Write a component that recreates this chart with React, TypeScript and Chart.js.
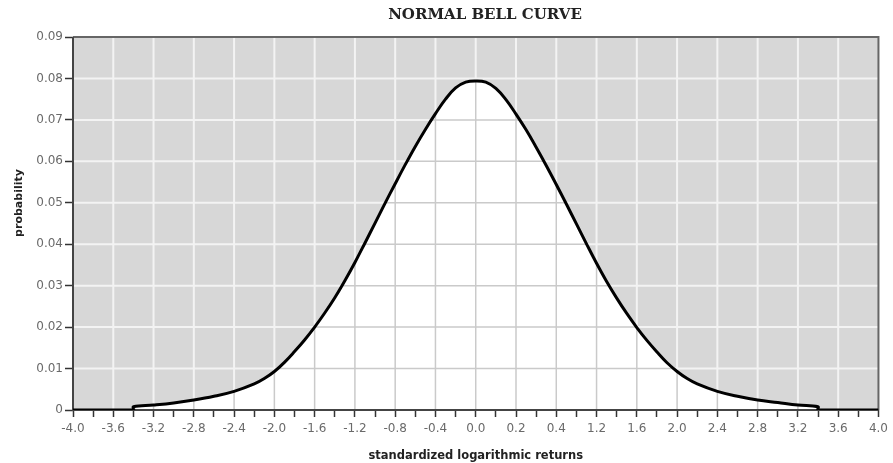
import { useEffect, useRef } from "react";
import { Chart, registerables } from "chart.js";

Chart.register(...registerables);

const TITLE = "NORMAL BELL CURVE";
const X_TITLE = "standardized logarithmic returns";
const Y_TITLE = "probability";

const xTickLabels = [
  "-4.0", "-3.6", "-3.2", "-2.8", "-2.4", "-2.0", "-1.6", "-1.2", "-0.8", "-0.4",
  "0.0", "0.2", "0.4", "1.2", "1.6", "2.0", "2.4", "2.8", "3.2", "3.6", "4.0",
];
const yTickLabels = ["0", "0.01", "0.02", "0.03", "0.04", "0.05", "0.06", "0.07", "0.08", "0.09"];

const xPositions = [
  -4.0, -3.8, -3.6, -3.4, -3.4, -3.2, -3.0, -2.8, -2.6, -2.4, -2.2, -2.1,
  -2.0, -1.9, -1.8, -1.7, -1.6, -1.5, -1.4, -1.3, -1.2, -1.1,
  -1.0, -0.9, -0.8, -0.7, -0.6, -0.5, -0.4, -0.3, -0.2, -0.1,
  0.0, 0.1, 0.2, 0.3, 0.4, 0.5, 0.6, 0.7, 0.8, 0.9,
  1.0, 1.1, 1.2, 1.3, 1.4, 1.5, 1.6, 1.7, 1.8, 1.9,
  2.0, 2.1, 2.2, 2.4, 2.6, 2.8, 3.0, 3.2, 3.4, 3.4, 3.6, 3.8, 4.0,
];
const probabilities = [
  0, 0, 0, 0, 0.0008, 0.0012, 0.0017, 0.0024, 0.0033, 0.0045, 0.0063, 0.0076,
  0.0093, 0.0115, 0.0141, 0.0169, 0.0200, 0.0234, 0.0271, 0.0312, 0.0356, 0.0403,
  0.0451, 0.0499, 0.0546, 0.0592, 0.0636, 0.0677, 0.0715, 0.0750, 0.0777, 0.0791,
  0.0794, 0.0791, 0.0776, 0.0749, 0.0714, 0.0676, 0.0634, 0.0590, 0.0544, 0.0497,
  0.0449, 0.0401, 0.0354, 0.0310, 0.0270, 0.0233, 0.0199, 0.0168, 0.0140, 0.0114,
  0.0093, 0.0076, 0.0063, 0.0045, 0.0033, 0.0024, 0.0018, 0.0012, 0.0008, 0, 0, 0, 0,
];

const X_MIN = -4;
const X_MAX = 4;
const X_GRID_STEP = 0.4;
const Y_MAX = 0.09;
const Y_STEP = 0.01;

const bellPlugin = {
  id: "bellDecor",
  beforeDatasetsDraw(chart: any) {
    const { ctx, chartArea: a, scales } = chart;
    const xs = scales.x;
    const ys = scales.y;
    const drawGrid = (color: string, width: number) => {
      ctx.strokeStyle = color;
      ctx.lineWidth = width;
      ctx.beginPath();
      const nx = Math.round((X_MAX - X_MIN) / X_GRID_STEP);
      for (let k = 1; k < nx; k++) {
        const px = xs.getPixelForValue(X_MIN + X_GRID_STEP * k);
        ctx.moveTo(px, a.top);
        ctx.lineTo(px, a.bottom);
      }
      const ny = Math.round(Y_MAX / Y_STEP);
      for (let k = 1; k < ny; k++) {
        const py = ys.getPixelForValue(Y_STEP * k);
        ctx.moveTo(a.left, py);
        ctx.lineTo(a.right, py);
      }
      ctx.stroke();
    };
    ctx.save();
    ctx.fillStyle = "#d7d7d7";
    ctx.fillRect(a.left, a.top, a.right - a.left, a.bottom - a.top);
    drawGrid("#f3f3f3", 2);
    const meta = chart.getDatasetMeta(0);
    const line = meta.dataset;
    const pts = meta.data;
    if (line && pts.length) {
      line.updateControlPoints(a, "x");
      ctx.beginPath();
      line.path(ctx);
      ctx.lineTo(pts[pts.length - 1].x, a.bottom);
      ctx.lineTo(pts[0].x, a.bottom);
      ctx.closePath();
      ctx.clip();
      ctx.fillStyle = "#ffffff";
      ctx.fillRect(a.left, a.top, a.right - a.left, a.bottom - a.top);
      drawGrid("#cacaca", 1.5);
    }
    ctx.restore();
    ctx.save();
    ctx.strokeStyle = "#666666";
    ctx.lineWidth = 2;
    ctx.beginPath();
    ctx.moveTo(a.left, a.top);
    ctx.lineTo(a.right, a.top);
    ctx.lineTo(a.right, a.bottom);
    ctx.stroke();
    ctx.strokeStyle = "#444444";
    ctx.beginPath();
    ctx.moveTo(a.left, a.top);
    ctx.lineTo(a.left, a.bottom);
    ctx.lineTo(a.right, a.bottom);
    ctx.stroke();
    ctx.restore();
  },
  afterDraw(chart: any) {
    const { ctx, chartArea: a } = chart;
    ctx.save();
    ctx.fillStyle = "#222222";
    ctx.textAlign = "center";
    ctx.textBaseline = "middle";
    ctx.font = "bold 15px 'DejaVu Serif'";
    ctx.fillText(TITLE, 485, 15);
    ctx.font = "bold 11.5px 'DejaVu Sans'";
    ctx.fillText(X_TITLE, (a.left + a.right) / 2, 456);
    ctx.translate(19, 203);
    ctx.rotate(-Math.PI / 2);
    ctx.font = "bold 11px 'DejaVu Sans'";
    ctx.fillText(Y_TITLE, 0, 0);
    ctx.restore();
  },
};

export default function App() {
  const canvasRef = useRef<HTMLCanvasElement | null>(null);

  useEffect(() => {
    document.body.style.margin = "0";
    const canvas = canvasRef.current;
    if (!canvas) return;
    const points = xPositions.map((x, i) => ({ x, y: probabilities[i] }));
    const chart = new Chart(canvas, {
      type: "line",
      data: {
        datasets: [
          {
            data: points,
            borderColor: "#000000",
            borderWidth: 3,
            pointRadius: 0,
            fill: false,
            tension: 0.4,
          },
        ],
      },
      options: {
        animation: false,
        responsive: true,
        maintainAspectRatio: false,
        layout: { padding: { top: 37, right: 13, left: 0, bottom: 0 } },
        plugins: {
          legend: { display: false },
          title: { display: false },
          tooltip: { enabled: false },
        },
        scales: {
          x: {
            type: "linear",
            min: X_MIN,
            max: X_MAX,
            afterFit: (s: any) => {
              s.height = 53;
            },
            afterBuildTicks: (s: any) => {
              const t = [];
              for (let k = 0; k <= 40; k++) t.push({ value: X_MIN + 0.2 * k });
              s.ticks = t;
            },
            grid: {
              drawOnChartArea: false,
              tickColor: "#333333",
              tickLength: 7,
              tickWidth: 1.5,
            },
            border: { display: false },
            ticks: {
              autoSkip: false,
              maxRotation: 0,
              padding: 5,
              color: "#6a6a6a",
              font: { family: "'DejaVu Sans'", size: 12 },
              callback: (_v: any, i: number) => (i % 2 === 0 ? xTickLabels[i / 2] : ""),
            },
          },
          y: {
            type: "linear",
            min: 0,
            max: Y_MAX,
            afterFit: (s: any) => {
              s.width = 73;
            },
            afterBuildTicks: (s: any) => {
              s.ticks = yTickLabels.map((_l, k) => ({ value: k * Y_STEP }));
            },
            grid: {
              drawOnChartArea: false,
              tickColor: "#333333",
              tickLength: 8,
              tickWidth: 1.5,
            },
            border: { display: false },
            ticks: {
              padding: 2,
              color: "#6a6a6a",
              font: { family: "'DejaVu Sans'", size: 12 },
              callback: (_v: any, i: number) => yTickLabels[i],
            },
          },
        },
      },
      plugins: [bellPlugin],
    });
    return () => chart.destroy();
  }, []);

  return (
    <div style={{ width: 893, height: 463, position: "relative" }}>
      <canvas ref={canvasRef} />
    </div>
  );
}
